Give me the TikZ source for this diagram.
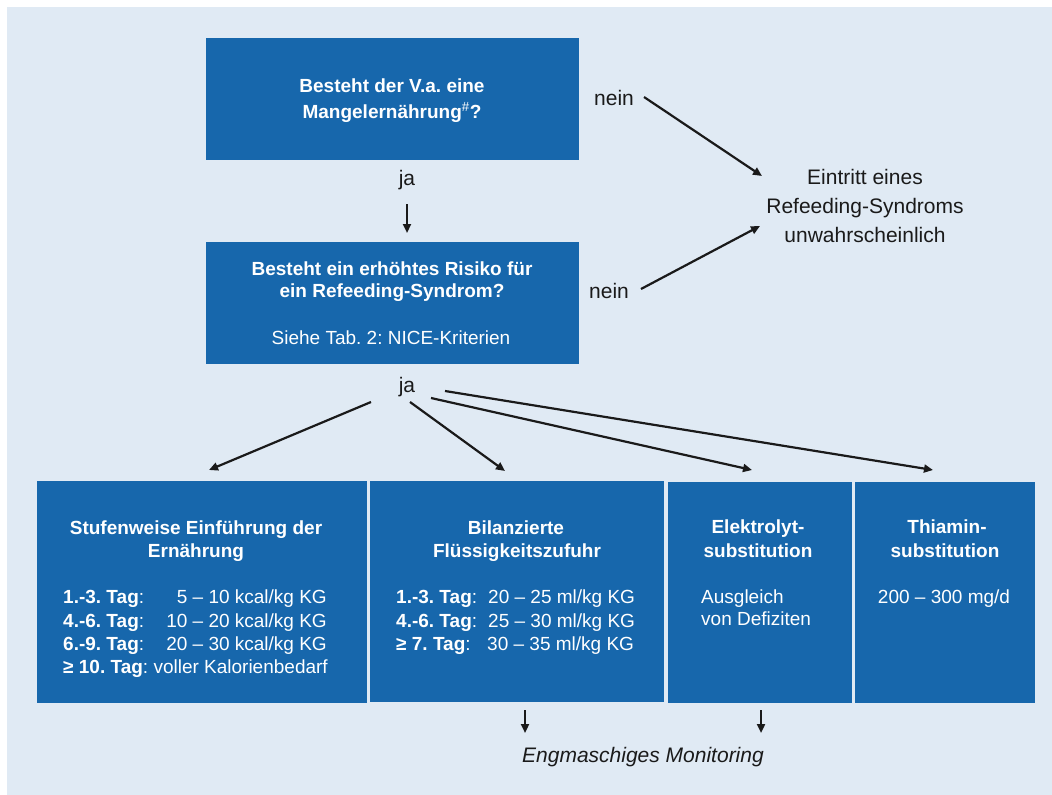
\documentclass[tikz,border=0pt]{standalone}
\usepackage{fontspec}
\setmainfont{Liberation Sans}
\usetikzlibrary{arrows.meta}
\frenchspacing
\definecolor{boxblue}{HTML}{1767AC}
\definecolor{bgblue}{HTML}{E0EAF4}
\definecolor{ink}{HTML}{1A1A1A}
\tikzset{
  bluebox/.style={fill=boxblue, draw=none, inner sep=0pt, rectangle},
  bt/.style={text=white, font=\fontsize{19}{22}\selectfont\bfseries, anchor=base, inner sep=0pt},
  rt/.style={text=white, font=\fontsize{19}{22}\selectfont, anchor=base, inner sep=0pt},
  ot/.style={text=ink, font=\fontsize{21}{25}\selectfont, anchor=base, inner sep=0pt},
  arr/.style={draw=ink, line width=2.2pt, -{Triangle[length=9pt,width=8pt]}},
}
\begin{document}
\begin{tikzpicture}[x=1pt,y=-1pt]
\useasboundingbox (0,0) rectangle (1052,795);
\fill[white] (0,0) rectangle (1052,795);
\fill[bgblue] (7,7) rectangle (1052,795);

% boxes
\node[bluebox, minimum width=373pt, minimum height=122pt] (b1) at (392.5,99) {};
\node[bluebox, minimum width=373pt, minimum height=122pt] (b2) at (392.5,303) {};
\node[bluebox, minimum width=330pt, minimum height=222pt] (ba) at (202,592) {};
\node[bluebox, minimum width=294pt, minimum height=221pt] (bb) at (517,591.5) {};
\node[bluebox, minimum width=184pt, minimum height=221pt] (bc) at (760,592.5) {};
\node[bluebox, minimum width=180pt, minimum height=221pt] (bd) at (945,592.5) {};

% box 1 text
\node[bt] (t1a) at (392,92) {Besteht der V.a. eine};
\node[bt] (t1b) at (392,118) {Mangelernährung\textsuperscript{\normalfont\#}?};

% box 2 text
\node[bt] (t2a) at (392,275) {Besteht ein erhöhtes Risiko für};
\node[bt] (t2b) at (392,297) {ein Refeeding-Syndrom?};
\node[rt] (t2c) at (391,344) {Siehe Tab. 2: NICE-Kriterien};

% labels
\node[ot] (ja1) at (407,185) {ja};
\node[ot] (ja2) at (407,392) {ja};
\node[ot, anchor=base west] (nein1) at (594,105) {nein};
\node[ot, anchor=base west] (nein2) at (589,298) {nein};
\node[ot] (e1) at (865,184) {Eintritt eines};
\node[ot] (e2) at (865,213) {Refeeding-Syndroms};
\node[ot] (e3) at (865,242) {unwahrscheinlich};
\node[ot, font=\fontsize{21}{25}\selectfont\itshape] (mon) at (643,762) {Engmaschiges Monitoring};

% box A text
\node[bt] (ta1) at (196,534) {Stufenweise Einführung der};
\node[bt] (ta2) at (196,557) {Ernährung};
\node[rt, anchor=base west] (ta3) at (63,603) {\textbf{1.-3. Tag}:};
\node[rt, anchor=base west] (ta4) at (63,627) {\textbf{4.-6. Tag}:};
\node[rt, anchor=base west] (ta5) at (63,650) {\textbf{6.-9. Tag}:};
\node[rt, anchor=base west] (ta6) at (63,673) {\textbf{≥ 10. Tag}: voller Kalorienbedarf};
\node[rt, anchor=base east] (va3) at (327,603) {5 – 10 kcal/kg KG};
\node[rt, anchor=base east] (va4) at (327,627) {10 – 20 kcal/kg KG};
\node[rt, anchor=base east] (va5) at (327,650) {20 – 30 kcal/kg KG};

% box B text
\node[bt] (tb1) at (516,534) {Bilanzierte};
\node[bt] (tb2) at (517,557) {Flüssigkeitszufuhr};
\node[rt, anchor=base west] (tb3) at (396,603) {\textbf{1.-3. Tag}:};
\node[rt, anchor=base west] (tb4) at (396,627) {\textbf{4.-6. Tag}:};
\node[rt, anchor=base west] (tb5) at (396,650) {\textbf{≥ 7. Tag}:};
\node[rt, anchor=base west] (vb3) at (488,603) {20 – 25 ml/kg KG};
\node[rt, anchor=base west] (vb4) at (488,627) {25 – 30 ml/kg KG};
\node[rt, anchor=base west] (vb5) at (487,650) {30 – 35 ml/kg KG};

% box C text
\node[bt] (tc1) at (758,533) {Elektrolyt-};
\node[bt] (tc2) at (758,557) {substitution};
\node[rt, anchor=base west] (tc3) at (701,603) {Ausgleich};
\node[rt, anchor=base west] (tc4) at (701,625) {von Defiziten};

% box D text
\node[bt] (td1) at (947,533) {Thiamin-};
\node[bt] (td2) at (945,557) {substitution};
\node[rt] (td3) at (944,603) {200 – 300 mg/d};

% arrow end points
\coordinate (a1s) at (407,204); \coordinate (a1e) at (407,233);
\coordinate (n1s) at (644,97);  \coordinate (n1e) at (762,176);
\coordinate (n2s) at (641,289); \coordinate (n2e) at (760,226);
\coordinate (j1s) at (371,402); \coordinate (j1e) at (209,470);
\coordinate (j2s) at (410,402); \coordinate (j2e) at (505,471);
\coordinate (j3s) at (431,398); \coordinate (j3e) at (752,470);
\coordinate (j4s) at (445,391); \coordinate (j4e) at (933,470);
\coordinate (m1s) at (525,710); \coordinate (m1e) at (525,733);
\coordinate (m2s) at (761,710); \coordinate (m2e) at (761,733);

\draw[arr] (a1s) -- (a1e);
\draw[arr] (n1s) -- (n1e);
\draw[arr] (n2s) -- (n2e);
\draw[arr] (j1s) -- (j1e);
\draw[arr] (j2s) -- (j2e);
\draw[arr] (j3s) -- (j3e);
\draw[arr] (j4s) -- (j4e);
\draw[arr] (m1s) -- (m1e);
\draw[arr] (m2s) -- (m2e);
\end{tikzpicture}
\end{document}
